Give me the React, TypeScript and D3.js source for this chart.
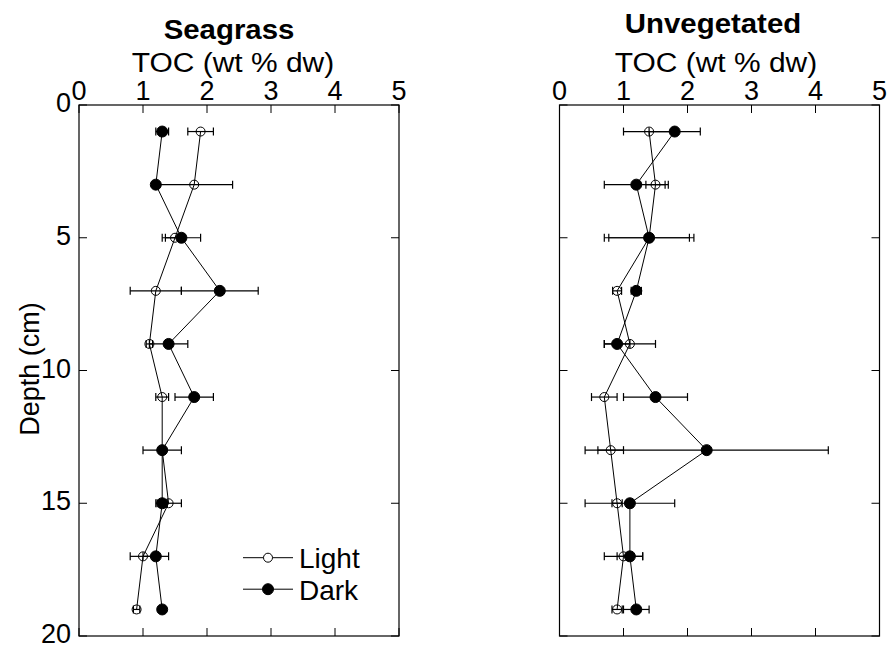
import React from "react";
import * as d3 from "d3";

const depths = [1, 3, 5, 7, 9, 11, 13, 15, 17, 19];
const seagrassLight = [1.9, 1.8, 1.5, 1.2, 1.1, 1.3, 1.3, 1.4, 1.0, 0.9];
const seagrassLightErr = [0.2, 0.6, 0.15, 0.4, 0.05, 0.1, 0.05, 0.2, 0.2, 0.05];
const seagrassDark = [1.3, 1.2, 1.6, 2.2, 1.4, 1.8, 1.3, 1.3, 1.2, 1.3];
const seagrassDarkErr = [0.1, 0, 0.3, 0.6, 0.3, 0.3, 0.3, 0.08, 0.2, 0];
const unvegLight = [1.4, 1.5, 1.4, 0.9, 1.1, 0.7, 0.8, 0.9, 1.0, 0.9];
const unvegLightErr = [0.4, 0.15, 0.63, 0.07, 0.4, 0.2, 0.2, 0.08, 0.3, 0.08];
const unvegDark = [1.8, 1.2, 1.4, 1.2, 0.9, 1.5, 2.3, 1.1, 1.1, 1.2];
const unvegDarkErr = [0.4, 0.5, 0.7, 0.08, 0.2, 0.5, 1.9, 0.7, 0.2, 0.2];
const xTicks = [0, 1, 2, 3, 4, 5];
const yTicks = [0, 5, 10, 15, 20];
const legendLabels = ["Light", "Dark"];

const FONT = "'Liberation Sans', Arial, Helvetica, sans-serif";
const TOP = 105;
const BOTTOM = 636;
const PW = 320;

type Series = { vals: number[]; errs: number[]; filled: boolean };

function Panel({ x0, title, titleX, titleY, axisTitleX, series, showY }: { x0: number; title: string; titleX: number; titleY: number; axisTitleX: number; series: Series[]; showY: boolean }) {
  const x = d3.scaleLinear().domain([0, 5]).range([x0, x0 + PW]);
  const y = d3.scaleLinear().domain([0, 20]).range([TOP, BOTTOM]);
  const line = d3.line<[number, number]>().x((d) => x(d[0])).y((d) => y(d[1]));
  const tl = 8;
  return (
    <g>
      <text transform={`translate(${titleX},${titleY}) scale(1.05,1)`} textAnchor="middle" fontFamily={FONT} fontSize={28} fontWeight="bold">{title}</text>
      <text transform={`translate(${axisTitleX},72) scale(1.07,1)`} textAnchor="middle" fontFamily={FONT} fontSize={28}>TOC (wt % dw)</text>
      <rect x={x0} y={TOP} width={PW} height={BOTTOM - TOP} fill="none" stroke="#000" strokeWidth={1.2} />
      {xTicks.map((t) => (
        <g key={"xt" + t}>
          <line x1={x(t)} x2={x(t)} y1={TOP} y2={TOP + tl} stroke="#000" strokeWidth={1} />
          <line x1={x(t)} x2={x(t)} y1={BOTTOM} y2={BOTTOM - tl} stroke="#000" strokeWidth={1} />
          <text x={x(t)} y={100} textAnchor="middle" fontFamily={FONT} fontSize={27}>{t}</text>
        </g>
      ))}
      {yTicks.map((t) => (
        <g key={"yt" + t}>
          <line x1={x0} x2={x0 + tl} y1={y(t)} y2={y(t)} stroke="#000" strokeWidth={1} />
          <line x1={x0 + PW} x2={x0 + PW - tl} y1={y(t)} y2={y(t)} stroke="#000" strokeWidth={1} />
          {showY && (
            <text x={x0 - 8} y={y(t) - 2} textAnchor="end" dominantBaseline="central" fontFamily={FONT} fontSize={27}>{t}</text>
          )}
        </g>
      ))}
      {series.map((s, si) => (
        <g key={"s" + si}>
          <path d={line(s.vals.map((v, i) => [v, depths[i]] as [number, number])) || ""} fill="none" stroke="#000" strokeWidth={1} />
          {s.vals.map((v, i) => {
            const e = s.errs[i];
            if (!e) return null;
            const yy = y(depths[i]);
            return (
              <g key={"e" + i} stroke="#000" strokeWidth={1.2}>
                <line x1={x(v - e)} x2={x(v + e)} y1={yy} y2={yy} />
                <line x1={x(v - e)} x2={x(v - e)} y1={yy - 4} y2={yy + 4} />
                <line x1={x(v + e)} x2={x(v + e)} y1={yy - 4} y2={yy + 4} />
              </g>
            );
          })}
          {s.vals.map((v, i) => (
            <circle key={"c" + i} cx={x(v)} cy={y(depths[i])} r={s.filled ? 5.5 : 4.5} fill={s.filled ? "#000" : "none"} stroke="#000" strokeWidth={1} />
          ))}
        </g>
      ))}
    </g>
  );
}

export default function App() {
  return (
    <svg width={891} height={650} style={{ position: "absolute", left: 0, top: 0, background: "#fff" }}>
      <rect width={891} height={650} fill="#fff" />
      <Panel
        x0={79}
        title="Seagrass"
        titleX={229}
        titleY={39}
        axisTitleX={233}
        showY={true}
        series={[
          { vals: seagrassLight, errs: seagrassLightErr, filled: false },
          { vals: seagrassDark, errs: seagrassDarkErr, filled: true },
        ]}
      />
      <Panel
        x0={559.5}
        title="Unvegetated"
        titleX={713}
        titleY={33}
        axisTitleX={716}
        showY={false}
        series={[
          { vals: unvegLight, errs: unvegLightErr, filled: false },
          { vals: unvegDark, errs: unvegDarkErr, filled: true },
        ]}
      />
      <text transform="translate(39,369) rotate(-90)" textAnchor="middle" fontFamily={FONT} fontSize={27}>Depth (cm)</text>
      {legendLabels.map((lab, i) => {
        const ly = 557.7 + i * 31.5;
        return (
          <g key={lab}>
            <line x1={243} x2={293} y1={ly} y2={ly} stroke="#000" strokeWidth={1} />
            <circle cx={268} cy={ly} r={i === 0 ? 4.5 : 5.5} fill={i === 0 ? "#fff" : "#000"} stroke="#000" strokeWidth={1} />
            <text x={299} y={ly + 1} dominantBaseline="central" fontFamily={FONT} fontSize={28}>{lab}</text>
          </g>
        );
      })}
    </svg>
  );
}
